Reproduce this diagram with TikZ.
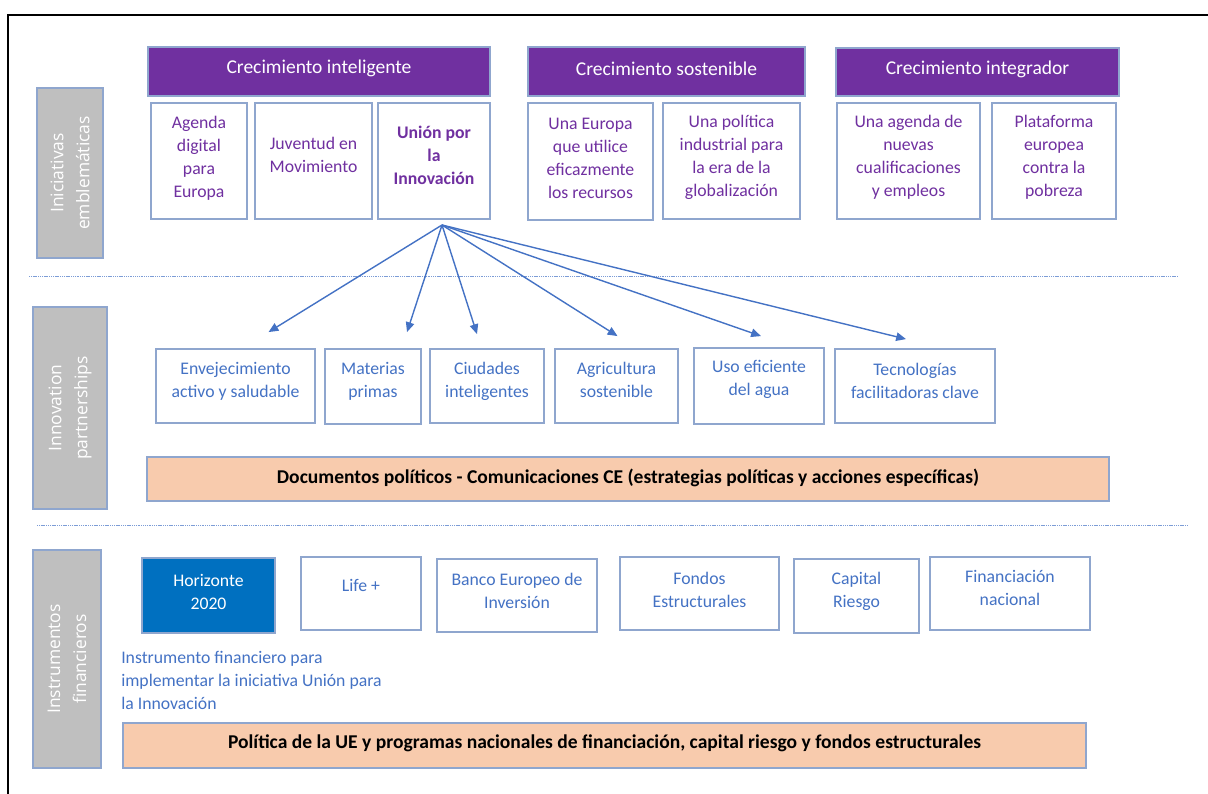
\documentclass[tikz,border=0pt]{standalone}
\usepackage{fontspec}
\setmainfont{Carlito}
\newfontfamily\sidefont{Open Sans}
\usetikzlibrary{fit,calc,arrows.meta}

\definecolor{purp}{RGB}{112,48,160}
\definecolor{edgeblue}{RGB}{143,166,206}
\definecolor{txtblue}{RGB}{68,114,196}
\definecolor{sidegray}{RGB}{191,191,191}
\definecolor{peach}{RGB}{248,203,173}
\definecolor{horblue}{RGB}{0,112,192}

\tikzset{
  outl/.style={draw=edgeblue,line width=1.3pt,inner sep=0pt},
  sidebox/.style={outl,fill=sidegray},
  sidetxt/.style={rotate=90,text=white,align=center,inner sep=0pt,
    font=\sidefont\fontsize{12.4}{18.5}\selectfont},
  growth/.style={outl,fill=purp},
  growthtxt/.style={inner sep=0pt,text=white,font=\fontsize{13.9}{16}\selectfont},
  flagship/.style={outl,fill=white},
  flagtxt/.style={inner sep=0pt,align=center,text=purp,font=\fontsize{12.6}{16.4}\selectfont},
  parttxt/.style={flagtxt,text=txtblue},
  policybar/.style={outl,fill=peach},
  bartxt/.style={inner sep=0pt,font=\bfseries\fontsize{13.9}{16}\selectfont},
  spread/.style={txtblue,line width=1pt,-{Triangle[length=7pt,width=6pt]}},
  split/.style={txtblue!70,line width=0.6pt,dash pattern=on 0.8pt off 0.5pt}
}

\begin{document}
\begin{tikzpicture}[x=0.025cm,y=-0.025cm]
  \useasboundingbox (0,0) rectangle (1208,794);
  \draw[line width=1.6pt] (1212,15) -- (8,15) -- (8,798);

  % side labels
  \node[sidebox, fit={(37,88) (103,258)}] (iniciativas) {};
  \node[sidetxt] (iniciativas-t) at (iniciativas) {Iniciativas\\emblemáticas};
  \node[sidebox, fit={(33,307) (107,509)}] (partnerships) {};
  \node[sidetxt] (partnerships-t) at (partnerships) {Innovation\\partnerships};
  \node[sidebox, fit={(33,550) (101,768)}] (instrumentos) {};
  \node[sidetxt] (instrumentos-t) at (instrumentos) {Instrumentos\\financieros};

  % growth headers
  \node[growth, fit={(148,47) (490,96)}] (inteligente) {};
  \node[growthtxt] (inteligente-t) at ($(inteligente)+(0,-3)$) {Crecimiento inteligente};
  \node[growth, fit={(528,47) (805,96)}] (sostenible) {};
  \node[growthtxt] (sostenible-t) at ($(sostenible)+(0,-3)$) {Crecimiento sostenible};
  \node[growth, fit={(836,48) (1119,96)}] (integrador) {};
  \node[growthtxt] (integrador-t) at ($(integrador)+(0,-3)$) {Crecimiento integrador};

  % flagship initiatives
  \node[flagship, fit={(151,103) (247,219)}] (agenda) {};
  \node[flagtxt] (agenda-t) at ($(agenda)+(0,-3)$) {Agenda\\digital\\para\\Europa};
  \node[flagship, fit={(255,103) (372,219)}] (juventud) {};
  \node[flagtxt] (juventud-t) at ($(juventud)+(0,-6)$) {Juventud en\\Movimiento};
  \node[flagship, fit={(378,103) (490,219)}] (union) {};
  \node[flagtxt, font=\bfseries\fontsize{12.6}{16.4}\selectfont] (union-t) at ($(union)+(0,-6)$) {Unión por\\la\\Innovación};
  \node[flagship, fit={(528,103) (653,220)}] (recursos) {};
  \node[flagtxt] (recursos-t) at ($(recursos)+(0,-3)$) {Una Europa\\que utilice\\eficazmente\\los recursos};
  \node[flagship, fit={(663,103) (800,219)}] (industrial) {};
  \node[flagtxt] (industrial-t) at ($(industrial)+(0,-4)$) {Una política\\industrial para\\la era de la\\globalización};
  \node[flagship, fit={(837,103) (980,219)}] (empleos) {};
  \node[flagtxt] (empleos-t) at ($(empleos)+(0,-4)$) {Una agenda de\\nuevas\\cualificaciones\\y empleos};
  \node[flagship, fit={(992,103) (1116,219)}] (pobreza) {};
  \node[flagtxt] (pobreza-t) at ($(pobreza)+(0,-4)$) {Plataforma\\europea\\contra la\\pobreza};

  \draw[split] (29,276) -- (1178,276);

  % innovation partnerships
  \node[flagship, fit={(156,349) (315,423)}] (envejec) {};
  \node[parttxt] (envejec-t) at ($(envejec)+(0,-5)$) {Envejecimiento\\activo y saludable};
  \node[flagship, fit={(325,349) (421,424)}] (materias) {};
  \node[parttxt] (materias-t) at ($(materias)+(0,-5)$) {Materias\\primas};
  \node[flagship, fit={(430,349) (544,423)}] (ciudades) {};
  \node[parttxt] (ciudades-t) at ($(ciudades)+(0,-5)$) {Ciudades\\inteligentes};
  \node[flagship, fit={(555,349) (678,423)}] (agricultura) {};
  \node[parttxt] (agricultura-t) at ($(agricultura)+(0,-6)$) {Agricultura\\sostenible};
  \node[flagship, fit={(694,348) (824,424)}] (agua) {};
  \node[parttxt] (agua-t) at ($(agua)+(0,-7)$) {Uso eficiente\\del agua};
  \node[flagship, fit={(835,349) (995,423)}] (tecnologias) {};
  \node[parttxt] (tecnologias-t) at ($(tecnologias)+(0,-5)$) {Tecnologías\\facilitadoras clave};

  \coordinate (hub) at (442,225);
  \draw[spread] (hub) -- ($(envejec.north)+(33,-16)$);
  \draw[spread] (hub) -- ($(materias.north)+(34,-16)$);
  \draw[spread] (hub) -- ($(ciudades.north)+(-10,-14)$);
  \draw[spread] (hub) -- ($(agricultura.north)+(1,-12)$);
  \draw[spread] (hub) -- ($(agua.north)+(2,-11)$);
  \draw[spread] (hub) -- ($(tecnologias.north)+(-9,-9)$);

  \node[policybar, fit={(147,457) (1109,501)}] (documentos) {};
  \node[bartxt] (documentos-t) at ($(documentos)+(0,-1)$) {Documentos políticos - Comunicaciones CE (estrategias políticas y acciones específicas)};

  \draw[split] (37,525) -- (1187,525);

  % financial instruments
  \node[flagship, fit={(142,558) (275,633)}, fill=horblue] (horizonte) {};
  \node[parttxt, text=white] (horizonte-t) at ($(horizonte)+(0,-4)$) {Horizonte\\2020};
  \node[flagship, fit={(301,557) (421,630)}] (life) {};
  \node[parttxt] (life-t) at ($(life)+(0,-8)$) {Life +};
  \node[flagship, fit={(437,559) (597,632)}] (banco) {};
  \node[parttxt] (banco-t) at ($(banco)+(0,-5)$) {Banco Europeo de\\Inversión};
  \node[flagship, fit={(620,557) (779,630)}] (fondos) {};
  \node[parttxt] (fondos-t) at ($(fondos)+(0,-4)$) {Fondos\\Estructurales};
  \node[flagship, fit={(794,559) (919,633)}] (capital) {};
  \node[parttxt] (capital-t) at ($(capital)+(0,-5)$) {Capital\\Riesgo};
  \node[flagship, fit={(930,557) (1090,630)}] (nacional) {};
  \node[parttxt] (nacional-t) at ($(nacional)+(0,-6)$) {Financiación\\nacional};

  \node[anchor=west, align=left, inner sep=0pt, text=txtblue, font=\fontsize{12.6}{16.4}\selectfont] (nota) at (121,680) {Instrumento financiero para\\implementar la iniciativa Unión para\\la Innovación};

  \node[policybar, fit={(123,723) (1086,768)}] (programas) {};
  \node[bartxt] (programas-t) at ($(programas)+(0,-2)$) {Política de la UE y programas nacionales de financiación, capital riesgo y fondos estructurales};
\end{tikzpicture}
\end{document}
